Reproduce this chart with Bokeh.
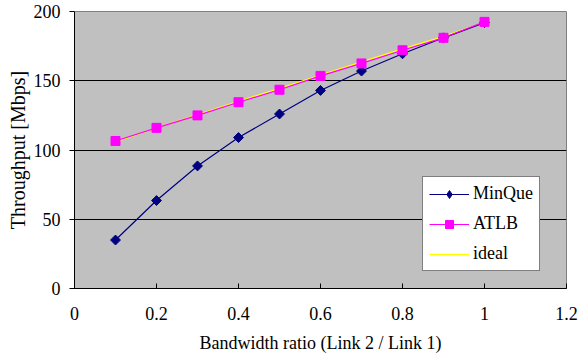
import math
from bokeh.plotting import figure
from bokeh.models import Range1d, FixedTicker, Legend, LegendItem
from bokeh.embed import file_html
from bokeh.resources import INLINE

ratio = [0.1, 0.2, 0.3, 0.4, 0.5, 0.6, 0.7, 0.8, 0.9, 1.0]
minque = [35, 63.5, 88.5, 109, 126, 143, 157, 169.5, 181, 192]
atlb = [106.5, 116, 125, 134.5, 143.5, 153.5, 162.5, 172, 181, 192.5]
ideal = [106, 116, 125.5, 135, 144.5, 154, 163.5, 173, 182, 192]

x_ticks = [0, 0.2, 0.4, 0.6, 0.8, 1.0, 1.2]
x_tick_labels = ["0", "0.2", "0.4", "0.6", "0.8", "1", "1.2"]
y_ticks = [0, 50, 100, 150, 200]

FONT = "Liberation Serif"

p = figure(width=586, height=364, output_backend="svg", toolbar_location=None,
           x_range=Range1d(0, 1.2), y_range=Range1d(0, 200))
p.min_border_left = 74
p.min_border_right = 20
p.min_border_top = 11
p.min_border_bottom = 76
p.background_fill_color = "#C0C0C0"
p.border_fill_color = "white"
p.outline_line_color = "#808080"
p.outline_line_width = 1

r_ideal = p.line(ratio, ideal, line_color="#FFFF00", line_width=1.5)
r_mq_l = p.line(ratio, minque, line_color="#000080", line_width=1.2)
r_mq_m = p.scatter(ratio, minque, marker="square", angle=math.pi / 4, size=7,
                   fill_color="#000080", line_color="#000080")
# legend-only diamond (legend ignores marker angle)
r_mq_leg = p.scatter(ratio, minque, marker="diamond", size=11,
                     fill_color="#000080", line_color="#000080", visible=False)
r_at_l = p.line(ratio, atlb, line_color="#FF00FF", line_width=1.2)
r_at_m = p.scatter(ratio, atlb, marker="square", size=9, fill_color="#FF00FF",
                   line_color="#FF00FF")

p.xgrid.visible = False
p.ygrid.ticker = FixedTicker(ticks=[50, 100, 150])
p.ygrid.grid_line_color = "black"
p.ygrid.grid_line_width = 1

p.xaxis.ticker = FixedTicker(ticks=x_ticks)
p.xaxis.major_label_overrides = {t: l for t, l in zip(x_ticks, x_tick_labels)}
p.yaxis.ticker = FixedTicker(ticks=y_ticks)
p.xaxis.minor_tick_line_color = None
p.yaxis.minor_tick_line_color = None
p.xaxis.major_tick_in = 5
p.xaxis.major_tick_out = 0
p.yaxis.major_tick_in = 0
p.yaxis.major_tick_out = 5
p.xaxis.major_label_standoff = 18
p.yaxis.major_label_standoff = 9
for ax in (p.xaxis, p.yaxis):
    ax.axis_line_color = "black"
    ax.major_tick_line_color = "black"
    ax.major_label_text_font = FONT
    ax.major_label_text_font_size = "18px"
    ax.major_label_text_color = "black"
    ax.axis_label_text_font = FONT
    ax.axis_label_text_font_size = "18px"
    ax.axis_label_text_font_style = "normal"
    ax.axis_label_text_color = "black"
p.yaxis.axis_label_text_font_size = "20px"
p.yaxis.major_label_orientation = "horizontal"
p.xaxis.axis_label = "Bandwidth ratio (Link 2 / Link 1)"
p.yaxis.axis_label = "Throughput [Mbps]"
p.xaxis.axis_label_standoff = 10
p.yaxis.axis_label_standoff = 2

legend = Legend(items=[
    LegendItem(label="MinQue", renderers=[r_mq_l, r_mq_leg]),
    LegendItem(label="ATLB", renderers=[r_at_l, r_at_m]),
    LegendItem(label="ideal", renderers=[r_ideal]),
], location=(348, 17))
legend.label_text_font = FONT
legend.label_text_font_size = "18px"
legend.label_text_color = "black"
legend.border_line_color = "black"
legend.border_line_width = 1
legend.background_fill_color = "white"
legend.background_fill_alpha = 1
legend.inactive_fill_alpha = 0
legend.glyph_width = 40
legend.glyph_height = 20
legend.label_height = 20
legend.spacing = 9
legend.padding = 6
legend.margin = 0
legend.label_standoff = 4
p.add_layout(legend, "center")

open("out.html", "w").write(file_html(p, INLINE))
